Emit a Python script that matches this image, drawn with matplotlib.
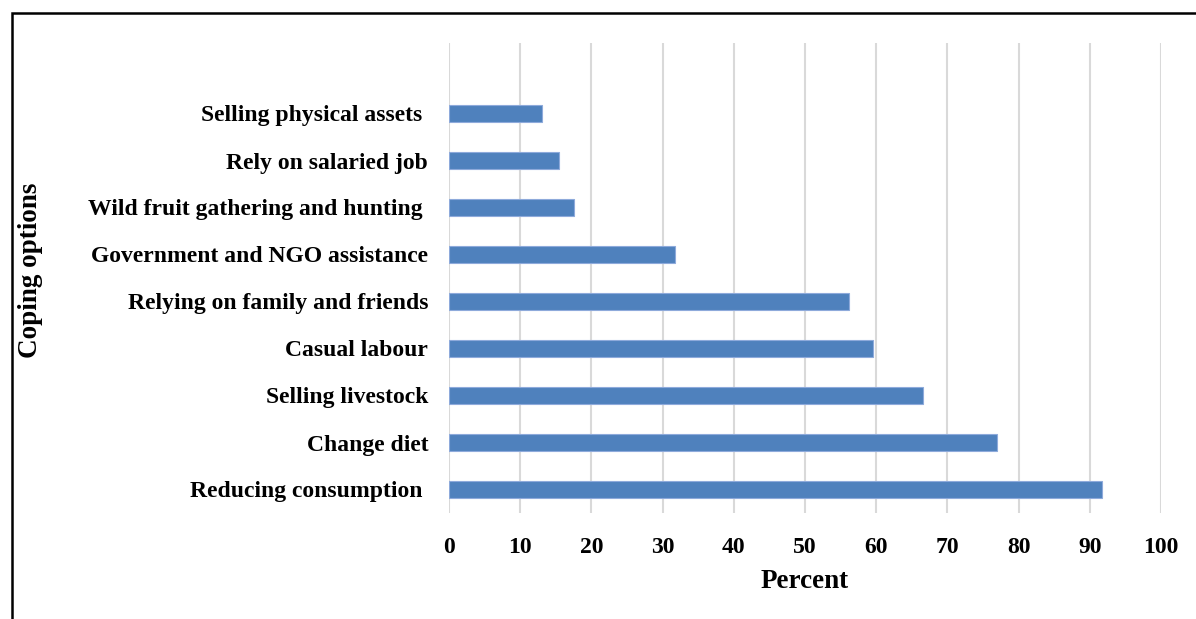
import matplotlib.pyplot as plt
from matplotlib.patches import Rectangle

# coping strategies used by households (percent)
opcoes = ['Reducing consumption ', 'Change diet', 'Selling livestock', 'Casual labour',
          'Relying on family and friends', 'Government and NGO assistance',
          'Wild fruit gathering and hunting ', 'Rely on salaried job',
          'Selling physical assets ']
percentual = [91.7, 77.0, 66.6, 59.5, 56.2, 31.7, 17.6, 15.4, 13.0]
x_ticks = [0, 10, 20, 30, 40, 50, 60, 70, 80, 90, 100]

plt.rcParams['font.family'] = ['Liberation Serif', 'DejaVu Serif']
plt.rcParams['font.weight'] = 'bold'

fig = plt.figure(figsize=(11.96, 6.19), dpi=100)
ax = fig.add_axes([449 / 1196, 1 - 513 / 619, 712 / 1196, 470 / 619])

pos = list(range(len(opcoes)))
ax.barh(pos, percentual, height=0.35, color='#4F81BD', edgecolor='#8EAADB',
        linewidth=0.8, zorder=3)

ax.set_xlim(0, 100)
ax.set_ylim(-0.5, len(opcoes) + 0.5)
ax.set_xticks(x_ticks)
ax.set_yticks(pos)
ax.set_yticklabels(opcoes)
ax.grid(axis='x', color='#D9D9D9', linewidth=1.5, zorder=0)
ax.tick_params(axis='both', length=0, labelsize=17)
ax.tick_params(axis='y', pad=15)
ax.tick_params(axis='x', pad=17)
for s in ax.spines.values():
    s.set_visible(False)

ax.set_xlabel('Percent', fontsize=19.5, fontweight='bold', labelpad=8)
fig.text(31 / 1196, 1 - 270 / 619, 'Coping options', rotation=90, fontsize=19.5,
         fontweight='bold', ha='center', va='center')

# moldura em volta do grafico
fig.patches.append(Rectangle((12 / 1196, -0.1), 1.2, 1 - 13 / 619 + 0.1,
                             transform=fig.transFigure, fill=False,
                             edgecolor='black', linewidth=1.8))

plt.savefig('out.png', dpi=100)
